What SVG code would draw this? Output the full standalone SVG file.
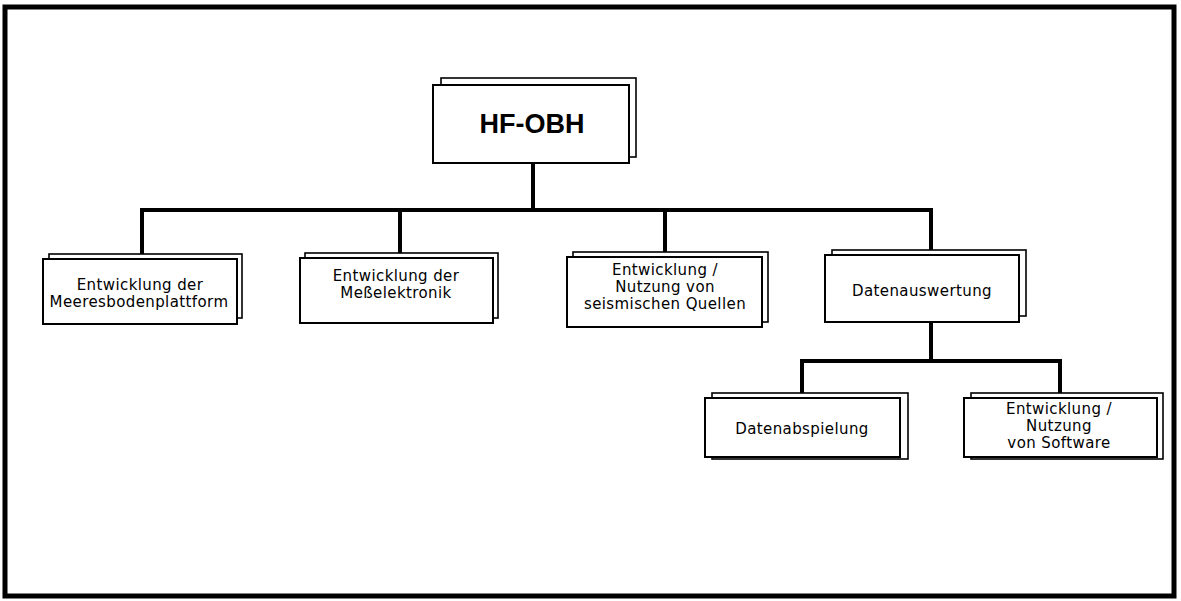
<svg xmlns="http://www.w3.org/2000/svg" width="1181" height="601" viewBox="0 0 1181 601">
<style>
.back{fill:#fff;stroke:#000;stroke-width:1.6}
.front{fill:#fff;stroke:#000;stroke-width:2}
.lbl{font-family:"DejaVu Sans",sans-serif;font-size:15px;letter-spacing:0.4px;fill:#000;text-anchor:middle}
.title{font-family:"Liberation Sans",Arial,sans-serif;font-weight:bold;font-size:27px;fill:#000;text-anchor:middle}
.conn{stroke:#000;stroke-width:4;fill:none}
</style>
<rect x="0" y="0" width="1181" height="601" fill="#fff"/>
<rect x="5" y="7" width="1169" height="589" fill="none" stroke="#000" stroke-width="5"/>
<g id="connectors">
<path class="conn" d="M533 163V210M142 210H932M142 208V259M400 208V258M665 208V257M931 208V255"/>
<path class="conn" d="M931 322V361M802 361H1060M802 359V398M1060 359V398"/>
</g>
<g id="n-hfobh">
<rect class="back" x="441" y="78" width="195" height="79"/>
<rect class="front" x="433" y="85" width="196" height="78"/>
<text class="title" x="532" y="133">HF-OBH</text>
</g>
<g id="n-meeresboden">
<rect class="back" x="49" y="254" width="193" height="64"/>
<rect class="front" x="43" y="259" width="194" height="65"/>
<text class="lbl" x="140" y="290">Entwicklung der</text>
<text class="lbl" x="139" y="307">Meeresbodenplattform</text>
</g>
<g id="n-messelektronik">
<rect class="back" x="305" y="253" width="193" height="65"/>
<rect class="front" x="300" y="258" width="193" height="65"/>
<text class="lbl" x="396" y="281">Entwicklung der</text>
<text class="lbl" x="396" y="298">Meßelektronik</text>
</g>
<g id="n-quellen">
<rect class="back" x="573" y="252" width="195" height="70"/>
<rect class="front" x="567" y="257" width="195" height="70"/>
<text class="lbl" x="665" y="275">Entwicklung /</text>
<text class="lbl" x="665" y="292">Nutzung von</text>
<text class="lbl" x="665" y="309">seismischen Quellen</text>
</g>
<g id="n-datenauswertung">
<rect class="back" x="832" y="250" width="194" height="66"/>
<rect class="front" x="825" y="255" width="194" height="67"/>
<text class="lbl" x="922" y="296">Datenauswertung</text>
</g>
<g id="n-datenabspielung">
<rect class="back" x="712" y="393" width="196" height="66"/>
<rect class="front" x="705" y="398" width="195" height="59"/>
<text class="lbl" x="802" y="434">Datenabspielung</text>
</g>
<g id="n-software">
<rect class="back" x="971" y="393" width="192" height="66"/>
<rect class="front" x="964" y="398" width="193" height="59"/>
<text class="lbl" x="1059" y="414">Entwicklung /</text>
<text class="lbl" x="1059" y="431">Nutzung</text>
<text class="lbl" x="1059" y="448">von Software</text>
</g>
</svg>
